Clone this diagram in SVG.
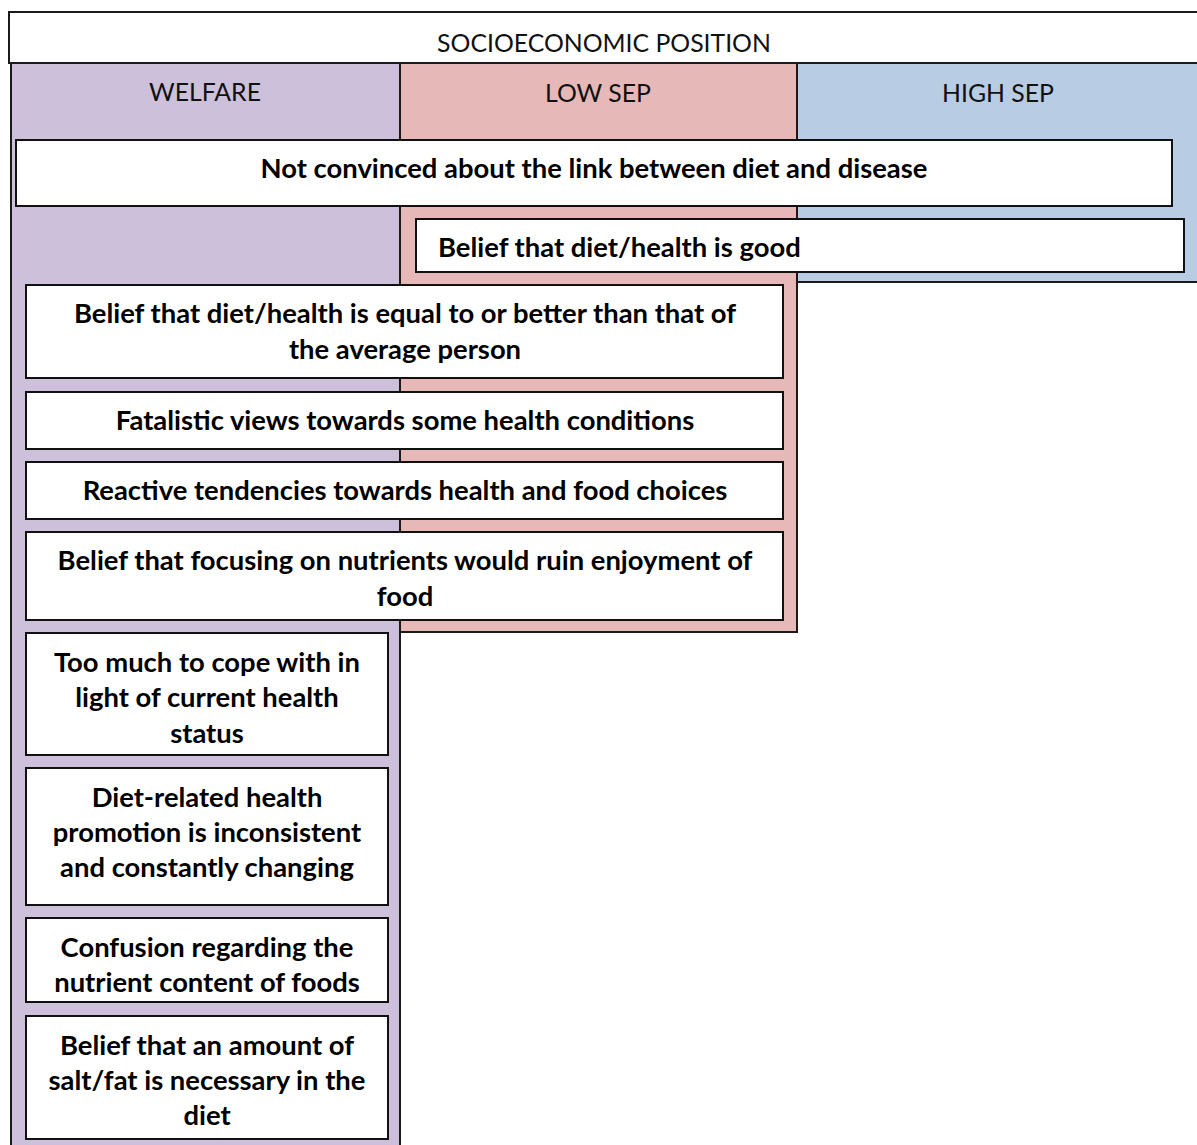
<svg xmlns="http://www.w3.org/2000/svg" width="1197" height="1145" viewBox="0 0 1197 1145">
  <style>
    .col { stroke: #1a1a1a; stroke-width: 2; }
    .welfare { fill: #CCC0DA; }
    .low { fill: #E6B8B7; }
    .high { fill: #B8CCE4; }
    .box { fill: #ffffff; stroke: #111111; stroke-width: 2; }
    .head { font-family: Lato, "Liberation Sans", sans-serif; font-size: 24.8px; fill: #111111; text-anchor: middle; }
    .item { font-family: Lato, "Liberation Sans", sans-serif; font-weight: bold; font-size: 27.4px; fill: #000000; text-anchor: middle; }
    .left { text-anchor: start; }
  </style>

  <rect width="1197" height="1145" fill="#ffffff"/>

  <!-- columns -->
  <g id="col-welfare">
    <rect class="col welfare" x="11" y="63" width="389" height="1100"/>
    <text class="head" x="205" y="101">WELFARE</text>
  </g>
  <g id="col-low">
    <rect class="col low" x="400" y="63" width="397" height="569"/>
    <text class="head" x="598" y="102">LOW SEP</text>
  </g>
  <g id="col-high">
    <rect class="col high" x="797" y="63" width="410" height="219"/>
    <text class="head" x="998" y="102">HIGH SEP</text>
  </g>

  <!-- title bar -->
  <g id="title">
    <rect class="col" fill="#ffffff" x="9" y="12" width="1200" height="51"/>
    <text class="head" x="604" y="52">SOCIOECONOMIC POSITION</text>
  </g>

  <!-- shared across all groups -->
  <g id="n-not-convinced">
    <rect class="box" x="16" y="140" width="1156" height="66"/>
    <text class="item" x="594" y="178">Not convinced about the link between diet and disease</text>
  </g>

  <!-- low and high SEP -->
  <g id="n-diet-good">
    <rect class="box" x="416" y="219" width="768" height="53"/>
    <text class="item left" x="438" y="257">Belief that diet/health is good</text>
  </g>

  <!-- welfare and low SEP -->
  <g id="n-equal-better">
    <rect class="box" x="26" y="285" width="757" height="93"/>
    <text class="item" x="405" y="323">Belief that diet/health is equal to or better than that of</text>
    <text class="item" x="405" y="359">the average person</text>
  </g>
  <g id="n-fatalistic">
    <rect class="box" x="26" y="392" width="757" height="57"/>
    <text class="item" x="405" y="430">Fatalistic views towards some health conditions</text>
  </g>
  <g id="n-reactive">
    <rect class="box" x="26" y="462" width="757" height="57"/>
    <text class="item" x="405" y="500">Reactive tendencies towards health and food choices</text>
  </g>
  <g id="n-nutrients-enjoyment">
    <rect class="box" x="26" y="532" width="757" height="88"/>
    <text class="item" x="405" y="570">Belief that focusing on nutrients would ruin enjoyment of</text>
    <text class="item" x="405" y="606">food</text>
  </g>

  <!-- welfare only -->
  <g id="n-too-much">
    <rect class="box" x="26" y="633" width="362" height="122"/>
    <text class="item" x="207" y="672">Too much to cope with in</text>
    <text class="item" x="207" y="707">light of current health</text>
    <text class="item" x="207" y="743">status</text>
  </g>
  <g id="n-inconsistent">
    <rect class="box" x="26" y="768" width="362" height="137"/>
    <text class="item" x="207" y="807">Diet-related health</text>
    <text class="item" x="207" y="842">promotion is inconsistent</text>
    <text class="item" x="207" y="877">and constantly changing</text>
  </g>
  <g id="n-confusion">
    <rect class="box" x="26" y="918" width="362" height="84"/>
    <text class="item" x="207" y="957">Confusion regarding the</text>
    <text class="item" x="207" y="992">nutrient content of foods</text>
  </g>
  <g id="n-salt-fat">
    <rect class="box" x="26" y="1016" width="362" height="123"/>
    <text class="item" x="207" y="1055">Belief that an amount of</text>
    <text class="item" x="207" y="1090">salt/fat is necessary in the</text>
    <text class="item" x="207" y="1125">diet</text>
  </g>

  <!-- no connectors in this layout -->
  <g id="connectors"/>
</svg>
